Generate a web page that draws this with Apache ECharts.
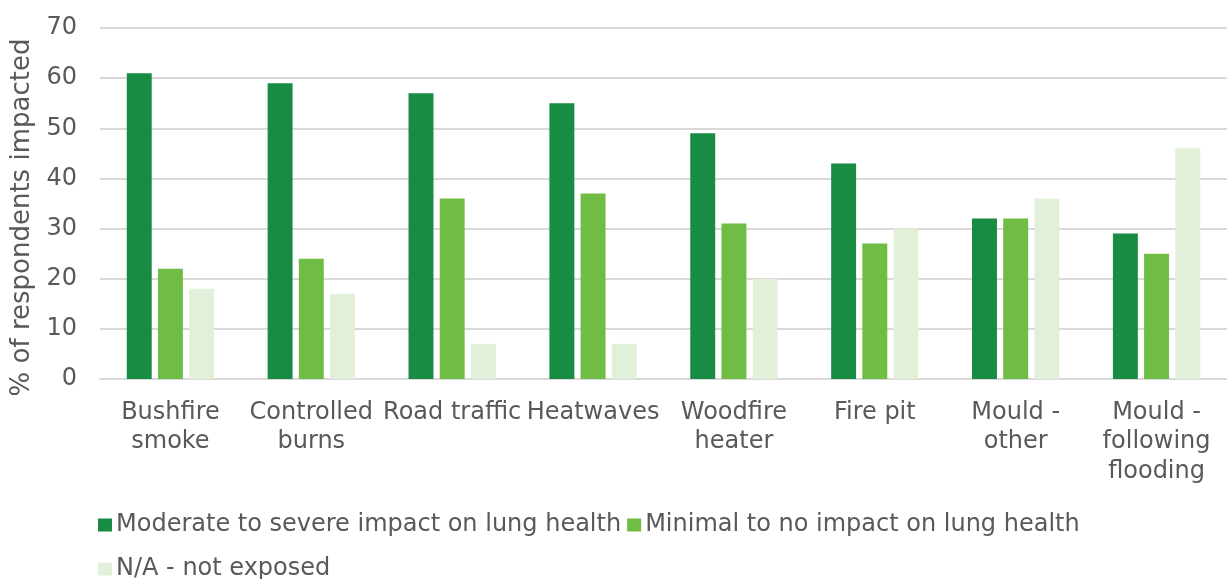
<!DOCTYPE html>
<html>
<head>
<meta charset="utf-8">
<script src="https://cdn.jsdelivr.net/npm/echarts@6/dist/echarts.min.js"></script>
<style>
  html, body { margin: 0; padding: 0; background: #fff; }
  #chart { width: 1227px; height: 579px; }
</style>
</head>
<body>
<div id="chart"></div>
<script>
var categories = ["Bushfire\nsmoke", "Controlled\nburns", "Road traffic", "Heatwaves",
  "Woodfire\nheater", "Fire pit", "Mould -\nother", "Mould -\nfollowing\nflooding"];
var moderate = [61, 59, 57, 55, 49, 43, 32, 29];
var minimal = [22, 24, 36, 37, 31, 27, 32, 25];
var notExposed = [18, 17, 7, 7, 20, 30, 36, 46];
var seriesNames = ["Moderate to severe impact on lung health",
  "Minimal to no impact on lung health", "N/A - not exposed"];

var font = "Verdana, 'DejaVu Sans', sans-serif";
var textColor = "#595959";

var legendText = { fontFamily: font, fontSize: 24, color: textColor, padding: [0, 0, 0, -1] };

var chart = echarts.init(document.getElementById("chart"));
chart.setOption({
  animation: false,
  textStyle: { fontFamily: font, color: textColor },
  grid: { left: 100, right: 0, top: 28, bottom: 200, containLabel: false },
  legend: [{
    left: 93,
    top: 508,
    itemWidth: 14,
    itemHeight: 13,
    itemGap: 6,
    icon: "rect",
    textStyle: legendText,
    data: seriesNames.slice(0, 2)
  }, {
    left: 93,
    top: 552,
    itemWidth: 14,
    itemHeight: 13,
    icon: "rect",
    textStyle: legendText,
    data: seriesNames.slice(2)
  }],
  xAxis: {
    type: "category",
    data: categories,
    axisLine: { lineStyle: { color: "#d9d9d9", width: 2 } },
    axisTick: { show: false },
    axisLabel: {
      interval: 0,
      margin: 19,
      fontSize: 24,
      lineHeight: 29.5,
      color: textColor,
      fontFamily: font
    }
  },
  yAxis: {
    type: "value",
    min: 0,
    max: 70,
    interval: 10,
    name: "% of respondents impacted",
    nameLocation: "middle",
    nameGap: 60,
    nameTextStyle: { fontSize: 26, color: textColor, fontFamily: font, padding: [0, 28, 0, 0] },
    axisLine: { show: false },
    axisTick: { show: false },
    axisLabel: { fontSize: 24, color: textColor, fontFamily: font, margin: 23 },
    splitLine: { lineStyle: { color: "#d9d9d9", width: 2 } }
  },
  series: [
    { name: seriesNames[0], type: "bar", data: moderate, itemStyle: { color: "#178c42" },
      barGap: "25%", barCategoryGap: "38%" },
    { name: seriesNames[1], type: "bar", data: minimal, itemStyle: { color: "#70bd45" } },
    { name: seriesNames[2], type: "bar", data: notExposed, itemStyle: { color: "#e2f0d9" } }
  ]
});
</script>
</body>
</html>
